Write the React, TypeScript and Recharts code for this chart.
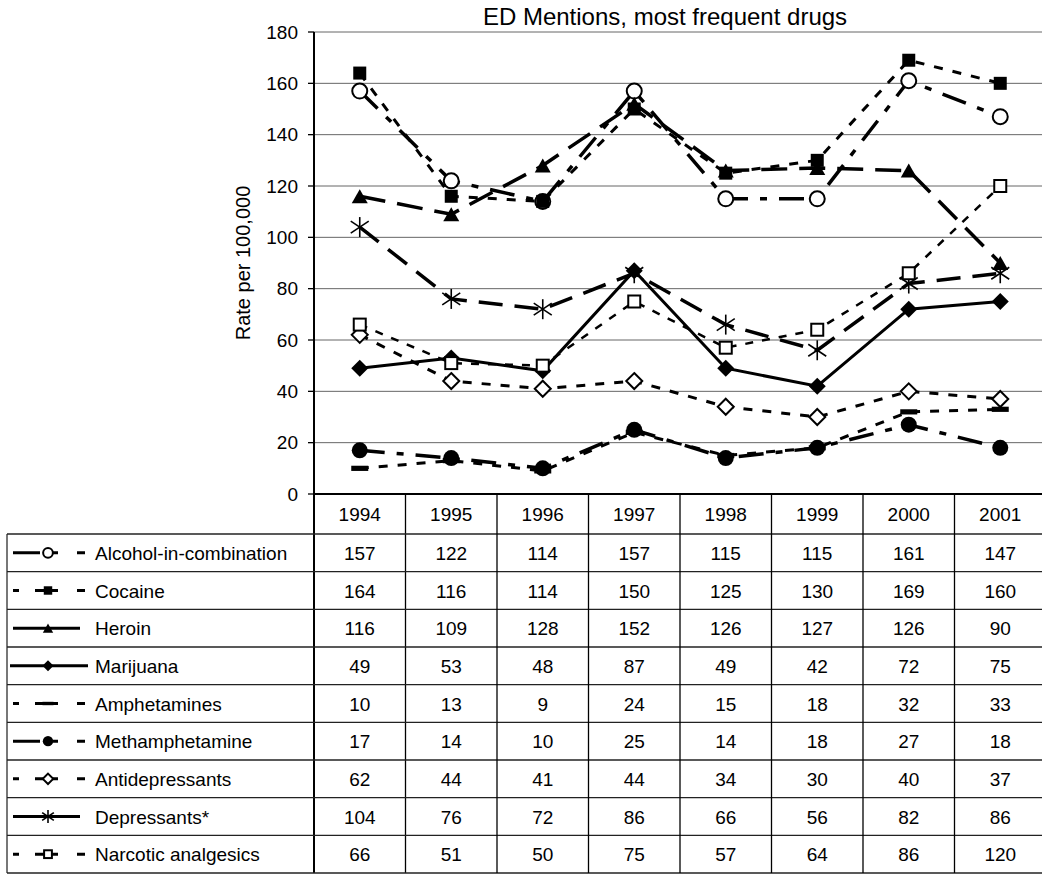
import React from 'react';
import { LineChart, Line, XAxis, YAxis, CartesianGrid } from 'recharts';

const years = [1994, 1995, 1996, 1997, 1998, 1999, 2000, 2001];
const alcoholValues = [157, 122, 114, 157, 115, 115, 161, 147];
const cocaineValues = [164, 116, 114, 150, 125, 130, 169, 160];
const heroinValues = [116, 109, 128, 152, 126, 127, 126, 90];
const marijuanaValues = [49, 53, 48, 87, 49, 42, 72, 75];
const amphetaminesValues = [10, 13, 9, 24, 15, 18, 32, 33];
const methamphetamineValues = [17, 14, 10, 25, 14, 18, 27, 18];
const antidepressantsValues = [62, 44, 41, 44, 34, 30, 40, 37];
const depressantsValues = [104, 76, 72, 86, 66, 56, 82, 86];
const narcoticValues = [66, 51, 50, 75, 57, 64, 86, 120];
const yTicks = [0, 20, 40, 60, 80, 100, 120, 140, 160, 180];

const titleText = 'ED Mentions, most frequent drugs';
const yLabelText = 'Rate per 100,000';

type MarkerKind =
  | 'circleOpen'
  | 'square'
  | 'triangle'
  | 'diamond'
  | 'bar'
  | 'circle'
  | 'diamondOpen'
  | 'star'
  | 'squareOpen';

interface SeriesDef {
  key: string;
  name: string;
  values: number[];
  dash?: string;
  width: number;
  marker: MarkerKind;
  legendDash?: string;
  legendStart: number;
  legendEnd: number;
}

const DASH_DOT_LEGEND = '27 13 5 19 8 20';
const SHORT_LEGEND = '6 16 23 19 8 20';

const seriesDefs: SeriesDef[] = [
  { key: 'alcohol', name: 'Alcohol-in-combination', values: alcoholValues, dash: '25 12 7 12', width: 3.5, marker: 'circleOpen', legendDash: DASH_DOT_LEGEND, legendStart: 13, legendEnd: 86 },
  { key: 'cocaine', name: 'Cocaine', values: cocaineValues, dash: '9 10', width: 3, marker: 'square', legendDash: SHORT_LEGEND, legendStart: 13, legendEnd: 86 },
  { key: 'heroin', name: 'Heroin', values: heroinValues, dash: '26 12', width: 3.5, marker: 'triangle', legendStart: 13, legendEnd: 80 },
  { key: 'marijuana', name: 'Marijuana', values: marijuanaValues, width: 3, marker: 'diamond', legendStart: 10, legendEnd: 88 },
  { key: 'amphetamines', name: 'Amphetamines', values: amphetaminesValues, dash: '9 10', width: 3, marker: 'bar', legendDash: SHORT_LEGEND, legendStart: 13, legendEnd: 86 },
  { key: 'methamphetamine', name: 'Methamphetamine', values: methamphetamineValues, dash: '25 12 7 12', width: 3.5, marker: 'circle', legendDash: DASH_DOT_LEGEND, legendStart: 13, legendEnd: 86 },
  { key: 'antidepressants', name: 'Antidepressants', values: antidepressantsValues, dash: '9 10', width: 3, marker: 'diamondOpen', legendDash: SHORT_LEGEND, legendStart: 13, legendEnd: 86 },
  { key: 'depressants', name: 'Depressants*', values: depressantsValues, dash: '24 12', width: 3.5, marker: 'star', legendStart: 13, legendEnd: 80 },
  { key: 'narcotic', name: 'Narcotic analgesics', values: narcoticValues, dash: '8 9', width: 2.5, marker: 'squareOpen', legendDash: SHORT_LEGEND, legendStart: 13, legendEnd: 86 },
];

const data = years.map((year, i) => {
  const row: Record<string, number> = { year };
  seriesDefs.forEach((s) => {
    row[s.key] = s.values[i];
  });
  return row;
});

// layout (style only)
const FONT = '"Liberation Sans", Arial, sans-serif';
const FS = 19;
const PLOT_LEFT = 314;
const PLOT_RIGHT = 1046;
const PLOT_TOP = 32;
const PLOT_BOTTOM = 494;
const COL_W = (PLOT_RIGHT - PLOT_LEFT) / years.length;
const HEADER_BOTTOM = 534;
const TABLE_BOTTOM = 873;
const ROW_H = (TABLE_BOTTOM - HEADER_BOTTOM) / seriesDefs.length;
const TABLE_LEFT = 7;

function Marker({ kind, cx, cy, s = 1 }: { kind: MarkerKind; cx: number; cy: number; s?: number }) {
  if (cx == null || cy == null || isNaN(cx) || isNaN(cy)) return null;
  switch (kind) {
    case 'circleOpen':
      return <circle cx={cx} cy={cy} r={7.5 * s} fill="#fff" stroke="#000" strokeWidth={2} />;
    case 'circle':
      return <circle cx={cx} cy={cy} r={8 * s} fill="#000" />;
    case 'square': {
      const h = 6.5 * s;
      return <rect x={cx - h} y={cy - h} width={2 * h} height={2 * h} fill="#000" />;
    }
    case 'squareOpen': {
      const h = 6 * s;
      return <rect x={cx - h} y={cy - h} width={2 * h} height={2 * h} fill="#fff" stroke="#000" strokeWidth={2} />;
    }
    case 'triangle': {
      const w = 8 * s;
      const h = 7 * s;
      return <polygon points={`${cx},${cy - h} ${cx + w},${cy + h} ${cx - w},${cy + h}`} fill="#000" />;
    }
    case 'diamond': {
      const h = 8.5 * s;
      return <polygon points={`${cx},${cy - h} ${cx + h},${cy} ${cx},${cy + h} ${cx - h},${cy}`} fill="#000" />;
    }
    case 'diamondOpen': {
      const h = 8 * s;
      return (
        <polygon
          points={`${cx},${cy - h} ${cx + h},${cy} ${cx},${cy + h} ${cx - h},${cy}`}
          fill="#fff"
          stroke="#000"
          strokeWidth={2}
        />
      );
    }
    case 'bar': {
      const w = 8.5 * s;
      const h = 2.6 * s;
      return <rect x={cx - w} y={cy - h} width={2 * w} height={2 * h} fill="#000" />;
    }
    case 'star': {
      const w = 9 * s;
      const h = 10 * s;
      return (
        <g stroke="#000" strokeWidth={1.6}>
          <line x1={cx} y1={cy - h} x2={cx} y2={cy + h} />
          <line x1={cx - w} y1={cy - h * 0.6} x2={cx + w} y2={cy + h * 0.6} />
          <line x1={cx - w} y1={cy + h * 0.6} x2={cx + w} y2={cy - h * 0.6} />
        </g>
      );
    }
    default:
      return null;
  }
}

const TableTick = (props: any) => {
  const { x, payload } = props;
  const idx = years.indexOf(payload.value);
  if (idx < 0) return null;
  const half = COL_W / 2;
  const textProps = { fontFamily: FONT, fontSize: FS, fill: '#000', textAnchor: 'middle' as const };
  const els: React.ReactNode[] = [];
  els.push(
    <line key="vr" x1={x + half} y1={PLOT_BOTTOM} x2={x + half} y2={TABLE_BOTTOM} stroke="#000" strokeWidth={1.3} />
  );
  els.push(
    <text key="yr" x={x} y={(PLOT_BOTTOM + HEADER_BOTTOM) / 2 + 7} {...textProps}>
      {payload.value}
    </text>
  );
  seriesDefs.forEach((s, r) => {
    els.push(
      <text key={`v${r}`} x={x} y={HEADER_BOTTOM + ROW_H * (r + 0.5) + 7} {...textProps}>
        {s.values[idx]}
      </text>
    );
  });
  if (idx === 0) {
    const left = x - half;
    els.push(<line key="vl" x1={left} y1={PLOT_BOTTOM} x2={left} y2={TABLE_BOTTOM} stroke="#000" strokeWidth={2} />);
    els.push(
      <line key="tl" x1={TABLE_LEFT} y1={HEADER_BOTTOM} x2={TABLE_LEFT} y2={TABLE_BOTTOM} stroke="#777" strokeWidth={2} />
    );
    for (let r = 0; r <= seriesDefs.length; r++) {
      const yy = HEADER_BOTTOM + ROW_H * r;
      els.push(<line key={`h${r}`} x1={TABLE_LEFT} y1={yy} x2={PLOT_RIGHT} y2={yy} stroke="#222" strokeWidth={1.3} />);
    }
    seriesDefs.forEach((s, r) => {
      const cy = HEADER_BOTTOM + ROW_H * (r + 0.5);
      els.push(
        <g key={`lg${r}`}>
          <line
            x1={s.legendStart}
            y1={cy}
            x2={s.legendEnd}
            y2={cy}
            stroke="#000"
            strokeWidth={3}
            strokeDasharray={s.legendDash}
          />
          <Marker kind={s.marker} cx={48} cy={cy} s={0.65} />
          <text x={95} y={cy + 7} fontFamily={FONT} fontSize={FS} fill="#000">
            {s.name}
          </text>
        </g>
      );
    });
  }
  return <g>{els}</g>;
};

export default function App() {
  return (
    <div style={{ position: 'relative', width: 1042, height: 875, overflow: 'hidden', background: '#fff' }}>
      <style>{'html,body{margin:0;padding:0;overflow:hidden;background:#fff;}'}</style>
      <LineChart
        width={PLOT_RIGHT}
        height={875}
        data={data}
        margin={{ top: PLOT_TOP, right: 0, bottom: 0, left: 0 }}
      >
        <CartesianGrid horizontal vertical={false} stroke="#666" strokeWidth={1} />
        <XAxis
          dataKey="year"
          type="number"
          domain={[1993.5, 2001.5]}
          ticks={years}
          interval={0}
          height={875 - PLOT_BOTTOM}
          tickSize={0}
          tickMargin={0}
          tickLine={false}
          axisLine={{ stroke: '#000', strokeWidth: 2 }}
          tick={(p: any) => <TableTick {...p} />}
        />
        <YAxis
          type="number"
          domain={[0, 180]}
          ticks={yTicks}
          interval={0}
          width={PLOT_LEFT}
          tickSize={6}
          tickMargin={10}
          tickLine={{ stroke: '#000', strokeWidth: 1.3 }}
          axisLine={{ stroke: '#000', strokeWidth: 2 }}
          tick={{ fontSize: FS, fill: '#000', fontFamily: FONT }}
        />
        {seriesDefs.map((s) => (
          <Line
            key={s.key}
            dataKey={s.key}
            name={s.name}
            type="linear"
            stroke="#000"
            strokeWidth={s.width}
            strokeDasharray={s.dash}
            isAnimationActive={false}
            activeDot={false}
            dot={(p: any) => <Marker key={`${s.key}-${p.index}`} kind={s.marker} cx={p.cx} cy={p.cy} />}
          />
        ))}
      </LineChart>
      <svg
        width={1042}
        height={875}
        style={{ position: 'absolute', left: 0, top: 0, pointerEvents: 'none' }}
      >
        <text x={665} y={25} textAnchor="middle" fontFamily={FONT} fontSize={24} fill="#000">
          {titleText}
        </text>
        <text
          transform="translate(243,263) rotate(-90)"
          dy="0.35em"
          textAnchor="middle"
          fontFamily={FONT}
          fontSize={20}
          fill="#000"
        >
          {yLabelText}
        </text>
      </svg>
    </div>
  );
}
